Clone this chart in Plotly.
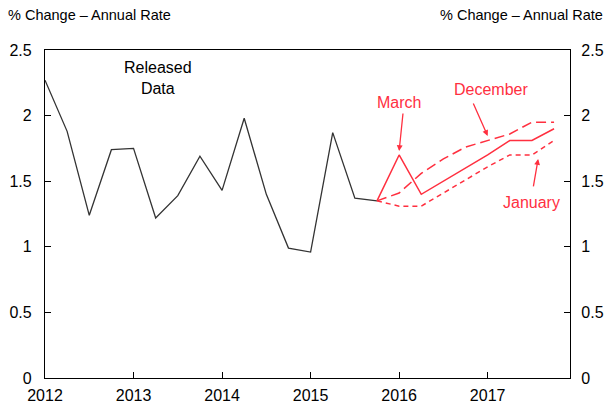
import plotly.graph_objects as go

# Quarterly dates as decimal years
released_x = [2012.0, 2012.25, 2012.5, 2012.75, 2013.0, 2013.25, 2013.5, 2013.75,
              2014.0, 2014.25, 2014.5, 2014.75, 2015.0, 2015.25, 2015.5, 2015.75]
released_y = [2.27, 1.88, 1.24, 1.74, 1.75, 1.22, 1.39, 1.69,
              1.43, 1.98, 1.40, 0.99, 0.96, 1.87, 1.37, 1.35]

proj_x = [2015.75, 2016.0, 2016.25, 2016.5, 2016.75, 2017.0, 2017.25, 2017.5, 2017.75]
march_y = [1.35, 1.70, 1.40, 1.50, 1.60, 1.70, 1.81, 1.81, 1.90]
december_y = [1.35, 1.41, 1.56, 1.67, 1.76, 1.81, 1.86, 1.95, 1.95]
january_y = [1.35, 1.31, 1.31, 1.41, 1.51, 1.61, 1.70, 1.70, 1.81]

year_ticks = [2012, 2013, 2014, 2015, 2016, 2017]
y_ticks = [0, 0.5, 1, 1.5, 2, 2.5]
y_labels = ['0', '0.5', '1', '1.5', '2', '2.5']

RED = '#ff2f3f'
FONT = 'Liberation Sans, Arial, sans-serif'

fig = go.Figure()
fig.add_trace(go.Scatter(x=released_x, y=released_y, mode='lines',
                         line=dict(color='#333333', width=1.3), name='Released Data'))
fig.add_trace(go.Scatter(x=proj_x, y=december_y, mode='lines',
                         line=dict(color=RED, width=1.5, dash='10px,5px'), name='December'))
fig.add_trace(go.Scatter(x=proj_x, y=january_y, mode='lines',
                         line=dict(color=RED, width=1.5, dash='5px,4px'), name='January'))
fig.add_trace(go.Scatter(x=proj_x, y=march_y, mode='lines',
                         line=dict(color=RED, width=1.5), name='March'))
# invisible trace to carry the right-hand axis
fig.add_trace(go.Scatter(x=[2012], y=[0], yaxis='y2', mode='markers',
                         marker=dict(opacity=0), showlegend=False, hoverinfo='skip'))

axis_common = dict(showgrid=False, zeroline=False, showline=True, linecolor='black',
                   linewidth=1.3, ticks='inside', ticklen=6, tickcolor='black',
                   automargin=False,
                   tickfont=dict(family=FONT, size=16, color='black'))

fig.update_layout(
    width=611, height=408,
    margin=dict(l=45, r=41, t=50, b=30),
    paper_bgcolor='white', plot_bgcolor='white',
    showlegend=False,
    font=dict(family=FONT, size=16, color='black'),
    xaxis=dict(range=[2012, 2017.93], tickvals=year_ticks, mirror=True,
               ticklabelstandoff=3, **axis_common),
    yaxis=dict(range=[0, 2.5], tickvals=y_ticks, ticktext=y_labels,
               ticklabelstandoff=9, **axis_common),
    yaxis2=dict(range=[0, 2.5], tickvals=y_ticks, ticktext=y_labels, overlaying='y',
                side='right', ticklabelstandoff=7, **axis_common),
)

# axis unit captions
fig.add_annotation(text='% Change – Annual Rate', xref='paper', yref='paper', x=-0.074, y=1.075,
                   xanchor='left', yanchor='bottom', showarrow=False, font=dict(size=14.5))
fig.add_annotation(text='% Change – Annual Rate', xref='paper', yref='paper', x=1.067, y=1.075,
                   xanchor='right', yanchor='bottom', showarrow=False, font=dict(size=14.5))

fig.add_annotation(text='Released<br>Data', x=2013.28, y=2.29, showarrow=False,
                   font=dict(size=16, color='black'))

red_font = dict(size=16, color=RED)
labels = [('March', 2016.0, 2.10), ('December', 2017.04, 2.20), ('January', 2017.50, 1.34)]
for txt, lx, ly in labels:
    fig.add_annotation(text=txt, x=lx, y=ly, showarrow=False, font=red_font)

# arrows: tip in data coords, tail offset in pixels
arrows = [(2016.0, 1.73, 4, -39), (2017.0, 1.845, -15, -34), (2017.57, 1.67, -5, 29)]
for tx, ty, dx, dy in arrows:
    fig.add_annotation(text='', x=tx, y=ty, ax=dx, ay=dy, showarrow=True,
                       arrowhead=2, arrowsize=0.9, arrowwidth=1.3, arrowcolor=RED, standoff=0)

# the page body has a default 8px margin; drop it so the figure fills the window
fig.write_html('out.html', config={'displayModeBar': False},
               post_script="document.body.style.margin='0';")
